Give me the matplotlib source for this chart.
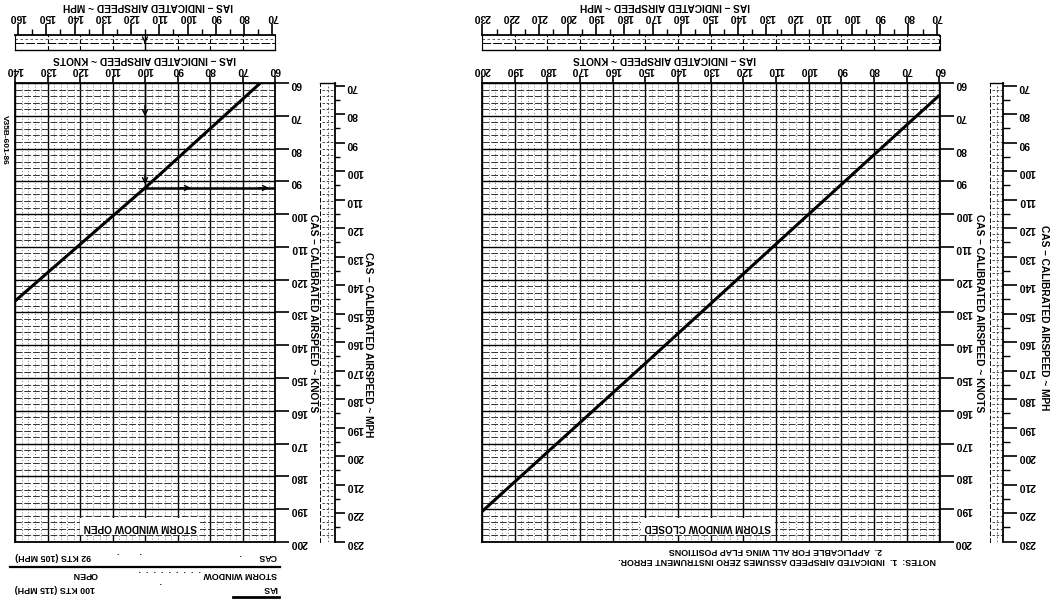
import numpy as np
import matplotlib
matplotlib.use('Agg')
import matplotlib.pyplot as plt

plt.rcParams['font.family'] = ['Liberation Sans Narrow', 'Liberation Sans', 'DejaVu Sans']
plt.rcParams['font.weight'] = 'bold'

KT2MPH = 1.15078
W, H = 1064, 601

# airspeed calibration, knots (IAS -> CAS)
ias_open = [64.5, 100, 140]
cas_open = [60, 92, 126.5]
ias_closed = [60, 100, 150, 200]
cas_closed = [63.7, 100, 145.5, 190.7]

# worked example, storm window open
ex_ias = 100
ex_cas = 92

ias_open_ticks = [60, 70, 80, 90, 100, 110, 120, 130, 140]
ias_closed_ticks = [60, 70, 80, 90, 100, 110, 120, 130, 140, 150, 160, 170, 180, 190, 200]
cas_ticks = [60, 70, 80, 90, 100, 110, 120, 130, 140, 150, 160, 170, 180, 190, 200]
mph_open_ticks = [70, 80, 90, 100, 110, 120, 130, 140, 150, 160]
mph_closed_ticks = [70, 80, 90, 100, 110, 120, 130, 140, 150, 160, 170, 180, 190, 200, 210, 220, 230]
mph_cas_ticks = [70, 80, 90, 100, 110, 120, 130, 140, 150, 160, 170, 180, 190, 200, 210, 220, 230]

TICK_FS = 7.5
TITLE_FS = 7.3
NOTE_FS = 6.4

fig = plt.figure(figsize=(W / 100, H / 100), dpi=100)
fig.patch.set_facecolor('white')


def box(x0, y0, x1, y1):
    # pixel box (top-left origin) -> figure fraction rect
    return [x0 / W, 1 - y1 / H, (x1 - x0) / W, (y1 - y0) / H]


def ftext(x, y, s, **kw):
    kw.setdefault('fontsize', NOTE_FS)
    kw.setdefault('rotation', 180)
    kw.setdefault('ha', 'center')
    kw.setdefault('va', 'center')
    fig.text(x / W, 1 - y / H, s, **kw)


def chart(x0, x1, ias_max, ias_ticks):
    ax = fig.add_axes(box(x0, 83, x1, 542))
    ax.set_xlim(ias_max, 60)
    ax.set_ylim(200, 60)
    ax.xaxis.tick_top()
    ax.yaxis.tick_right()
    ax.set_xticks(ias_ticks)
    ax.set_xticks(np.arange(62, ias_max, 2), minor=True)
    ax.set_yticks(cas_ticks)
    ax.set_yticks(np.arange(62, 200, 2), minor=True)
    ax.tick_params(axis='x', which='major', length=5, width=1.2, pad=1,
                   labelsize=TICK_FS, labelrotation=180)
    ax.tick_params(axis='y', which='major', length=10, width=1.2, pad=1,
                   labelsize=TICK_FS, labelrotation=180)
    ax.tick_params(which='minor', length=0)
    ax.xaxis.grid(True, which='major', color='k', lw=1.0)
    ax.yaxis.grid(True, which='major', color='k', lw=1.0)
    ax.xaxis.grid(True, which='minor', color='#555555', lw=0.6, ls=(0, (1, 2.5)))
    ax.yaxis.grid(True, which='minor', color='#333333', lw=0.7, ls=(0, (7, 2)))
    for sp in ax.spines.values():
        sp.set_linewidth(1.3)
    return ax


def mph_top(x0, x1, ias_max, ticks):
    ax = fig.add_axes(box(x0, 35, x1, 50))
    ax.set_xlim(ias_max * KT2MPH, 60 * KT2MPH)
    ax.set_ylim(0, 1)
    ax.xaxis.tick_top()
    ax.set_xticks(ticks)
    ax.set_xticks(np.arange(75, ticks[-1], 10), minor=True)
    ax.tick_params(axis='x', which='major', length=8, width=1.2, pad=1,
                   labelsize=TICK_FS, labelrotation=180)
    ax.tick_params(axis='x', which='minor', length=4, width=1.0)
    ax.set_yticks([])
    ax.spines['top'].set_linewidth(1.3)
    ax.spines['bottom'].set_linewidth(1.0)
    ax.spines['left'].set_linewidth(0.8)
    ax.spines['right'].set_linewidth(0.8)
    # remnant grid strip
    for k in range(60, ias_max + 1, 10):
        ax.axvline(k * KT2MPH, color='k', lw=0.8, ls=(0, (4, 2)))
    ax.axhline(0.45, color='k', lw=0.7, ls=(0, (9, 2)))
    ax.axhline(0.72, color='#444444', lw=0.6, ls=(0, (3, 3)))
    return ax


def mph_side(x0, x1, tick_len):
    ax = fig.add_axes(box(x0, 83, x1, 542))
    ax.set_ylim(200 * KT2MPH, 60 * KT2MPH)
    ax.set_xlim(0, 1)
    ax.yaxis.tick_right()
    ax.set_yticks(mph_cas_ticks)
    ax.set_yticks(np.arange(75, 230, 10), minor=True)
    ax.tick_params(axis='y', which='major', length=tick_len, width=1.2, pad=1,
                   labelsize=TICK_FS, labelrotation=180)
    ax.tick_params(axis='y', which='minor', length=tick_len / 2, width=1.0)
    ax.set_xticks([])
    ax.spines['right'].set_linewidth(1.3)
    ax.spines['top'].set_linewidth(1.0)
    ax.spines['bottom'].set_visible(False)
    ax.spines['left'].set_linestyle((0, (4, 3)))
    ax.spines['left'].set_linewidth(0.7)
    for k in np.arange(62, 200, 2):
        ax.axhline(k * KT2MPH, xmin=0.15, xmax=1, color='#333333', lw=0.6,
                   ls=(0, (3, 2)))
    ax.axvline(0.5, color='#444444', lw=0.6, ls=(0, (2, 3)))
    return ax


# ---- left chart: storm window open
axL = chart(15, 275, 140, ias_open_ticks)
axL.plot(ias_open, cas_open, color='k', lw=2.2, solid_capstyle='butt')
axL.plot([ex_ias, ex_ias], [60, ex_cas], color='k', lw=1.0)
axL.plot([ex_ias, 60], [ex_cas, ex_cas], color='k', lw=1.8)
arrow = dict(arrowstyle='->', color='k', lw=1.0, mutation_scale=9)
axL.annotate('', xy=(ex_ias, 71), xytext=(ex_ias, 66), arrowprops=arrow)
axL.annotate('', xy=(ex_ias, ex_cas - 0.3), xytext=(ex_ias, ex_cas - 5), arrowprops=arrow)
axL.annotate('', xy=(85, ex_cas), xytext=(90, ex_cas), arrowprops=arrow)
axL.annotate('', xy=(61, ex_cas), xytext=(66, ex_cas), arrowprops=arrow)
axL.text(101.5, 195.4, 'STORM WINDOW OPEN', rotation=180, ha='center', va='center',
         fontsize=7.2, bbox=dict(fc='white', ec='none', pad=2.5))

tL = mph_top(15, 275, 140, mph_open_ticks)
tL.plot([ex_ias * KT2MPH] * 2, [1, 0], color='k', lw=1.0)
tL.annotate('', xy=(ex_ias * KT2MPH, 0.25), xytext=(ex_ias * KT2MPH, 0.8), arrowprops=arrow)

sL = mph_side(320, 335, 7)

# ---- right chart: storm window closed
axR = chart(482, 939.5, 200, ias_closed_ticks)
axR.plot(ias_closed, cas_closed, color='k', lw=2.2, solid_capstyle='butt')
axR.text(130.8, 195.4, 'STORM WINDOW CLOSED', rotation=180, ha='center', va='center',
         fontsize=7.2, bbox=dict(fc='white', ec='none', pad=2.5))
tR = mph_top(482, 939.5, 200, mph_closed_ticks)
sR = mph_side(990, 1003, 10)

# ---- axis titles
ftext(148, 6, 'IAS \u2013 INDICATED AIRSPEED ~ MPH', fontsize=TITLE_FS)
ftext(145, 59, 'IAS \u2013 INDICATED AIRSPEED ~ KNOTS', fontsize=TITLE_FS)
ftext(665, 6, 'IAS \u2013 INDICATED AIRSPEED ~ MPH', fontsize=TITLE_FS)
ftext(665, 59, 'IAS \u2013 INDICATED AIRSPEED ~ KNOTS', fontsize=TITLE_FS)
ftext(313, 313, 'CAS \u2013 CALIBRATED AIRSPEED ~ KNOTS', rotation=270, fontsize=TITLE_FS)
ftext(368, 345, 'CAS \u2013 CALIBRATED AIRSPEED ~ MPH', rotation=270, fontsize=TITLE_FS)
ftext(979, 313, 'CAS \u2013 CALIBRATED AIRSPEED ~ KNOTS', rotation=270, fontsize=TITLE_FS)
ftext(1044, 318, 'CAS \u2013 CALIBRATED AIRSPEED ~ MPH', rotation=270, fontsize=TITLE_FS)
ftext(4, 140, 'V35B-601-86', rotation=270, fontsize=6.0)

# ---- example legend under left chart
ftext(277, 557, 'CAS', ha='right')
ftext(15, 557, '92 KTS (105 MPH)', ha='left')
ftext(240, 556, '.')
ftext(130, 555, '.        .')
fig.add_artist(plt.Line2D([10 / W, 280 / W], [1 - 567 / H] * 2, color='k', lw=1.6))
ftext(277, 575, 'STORM WINDOW', ha='right')
ftext(72, 575, 'OPEN', ha='left')
ftext(170, 573, '.  .  .  .  .  .  .  .  .')
ftext(277, 588, 'IAS', ha='right')
ftext(15, 588, '100 KTS (115 MPH)', ha='left')
ftext(160, 585, '.')
fig.add_artist(plt.Line2D([233 / W, 279 / W], [1 - 597 / H] * 2, color='k', lw=2.0))

# ---- notes under right chart
ftext(936, 561, 'NOTES:  1.  INDICATED AIRSPEED ASSUMES ZERO INSTRUMENT ERROR.',
      ha='right')
ftext(882, 550, '2.  APPLICABLE FOR ALL WING FLAP POSITIONS', ha='right')

fig.savefig('out.png', dpi=100, facecolor='white')
